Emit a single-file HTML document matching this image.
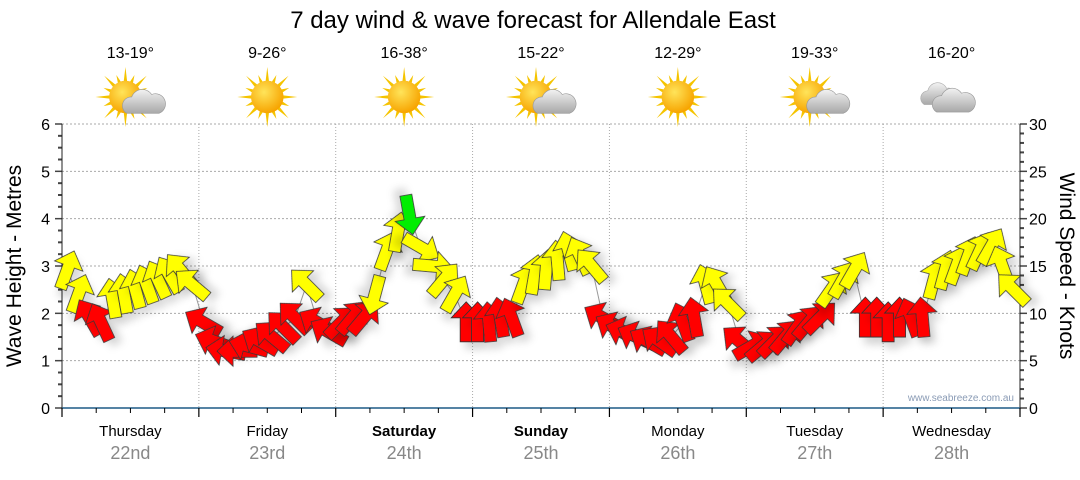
<!DOCTYPE html>
<html><head><meta charset="utf-8">
<style>
body{margin:0;background:#fff;font-family:"Liberation Sans",sans-serif;}
svg text{font-family:"Liberation Sans",sans-serif;}
</style></head>
<body>
<svg id="chart" width="1080" height="475" xmlns="http://www.w3.org/2000/svg">
<defs>
<filter id="sh" x="-50%" y="-50%" width="200%" height="200%"><feDropShadow dx="5" dy="7" stdDeviation="4" flood-color="#000" flood-opacity="0.15"/></filter>
<radialGradient id="sunG" cx="40%" cy="35%" r="65%"><stop offset="0" stop-color="#ffe45a"/><stop offset="1" stop-color="#f7a400"/></radialGradient>
<linearGradient id="cloudG" x1="0" y1="0" x2="0" y2="1"><stop offset="0" stop-color="#f2f2f2"/><stop offset="1" stop-color="#a8a8a8"/></linearGradient>
</defs>
<text x="533" y="28" font-size="24" text-anchor="middle" fill="#000">7 day wind &amp; wave forecast for Allendale East</text>
<g id="grid"></g><g id="axes"></g><g id="icons"></g><g id="marks"></g>
<text transform="translate(21,266) rotate(-90)" font-size="21" text-anchor="middle">Wave Height - Metres</text>
<text transform="translate(1060,266) rotate(90)" font-size="21" text-anchor="middle">Wind Speed - Knots</text>
<text x="1014" y="401" font-size="10" text-anchor="end" fill="#8a9bb5">www.seabreeze.com.au</text>
</svg>
<script>
const days=["Thursday","Friday","Saturday","Sunday","Monday","Tuesday","Wednesday"];
const dates=["22nd","23rd","24th","25th","26th","27th","28th"];
const temps=["13-19°","9-26°","16-38°","15-22°","12-29°","19-33°","16-20°"];
const icons=["partly","sun","sun","partly","sun","partly","cloud"];
const speeds=[14.5,12,9.5,9,11.5,12,12.5,13,13.5,14,14.5,13,
9,7,6,6,6.5,7,7.5,8.5,9.5,13,9,8,
9,9.5,9.5,12,16.5,18.5,20.5,17,15,13.5,12,9,
9,9,9.5,9.5,13,14,14.5,15.5,16.5,16,15,9.5,
8.5,8,7.5,7,7,7.5,9,9.5,13,13,11,7,
6.5,6.5,7,7.5,8.5,9,9.5,12.5,13.5,14.5,9.5,9.5,
9,9.5,9.5,9.5,13.5,14.5,15,16,16.5,17,15,12.5];
const dirs=[20,20,330,335,350,350,345,340,335,330,320,310,
300,290,280,270,285,300,310,315,315,315,300,300,
45,40,40,195,20,10,170,120,95,40,30,0,
0,355,350,340,20,10,5,355,345,335,320,300,
300,290,295,300,305,320,340,350,345,330,315,310,
60,50,45,40,35,40,45,35,30,30,0,0,
0,0,340,355,15,15,20,20,25,30,340,315];
const waveTicks=[0,1,2,3,4,5,6];
const windTicks=[0,5,10,15,20,25,30];

const NS="http://www.w3.org/2000/svg";
const X0=62,X1=1020,Y0=408,Y1=124,DAYW=(X1-X0)/7;
const xT=h=>X0+h/24*DAYW;
const yW=m=>Y0-(m/6)*(Y0-Y1);
const yK=k=>Y0-(k/30)*(Y0-Y1);
function mk(tag,attrs,parent){const e=document.createElementNS(NS,tag);for(const k in attrs)e.setAttribute(k,attrs[k]);parent.appendChild(e);return e;}
const grid=document.getElementById('grid'),axes=document.getElementById('axes'),icG=document.getElementById('icons'),marks=document.getElementById('marks');

waveTicks.forEach(v=>{
  if(v>0){const l=mk('line',{x1:X0,x2:X1,y1:yW(v),y2:yW(v),stroke:'#aaa','stroke-dasharray':'2,2'},grid);
  
  }
  const t=mk('text',{x:50,y:yW(v)+6,'font-size':16,'text-anchor':'end'},axes);t.textContent=v;
  
  
});
for(let m=0;m<=24;m++){const y=yW(m*0.25);mk('line',{x1:X0-(m%4?4:7),x2:X0,y1:y,y2:y,stroke:'#444','stroke-width':(m%4?2:1.5)},axes);}
windTicks.forEach(v=>{
  const t=mk('text',{x:1029,y:yK(v)+6,'font-size':16},axes);t.textContent=v;
  
  
});
for(let k=0;k<=30;k++){const y=yK(k);mk('line',{x1:X1,x2:X1+(k%5?4:7),y1:y,y2:y,stroke:'#444','stroke-width':(k%5?2:1.5)},axes);}
mk('line',{x1:X0,x2:X0,y1:Y1,y2:Y0,stroke:'#222'},axes);
mk('line',{x1:X1,x2:X1,y1:Y1,y2:Y0,stroke:'#222'},axes);
mk('line',{x1:X0,x2:X1,y1:Y0,y2:Y0,stroke:'#1d5a85','stroke-width':1.5},axes);
for(let d=0;d<=7;d++){
  const x=xT(d*24);
  if(d>0&&d<7){const g=mk('line',{x1:x,x2:x,y1:Y1,y2:Y0,stroke:'#aaa','stroke-dasharray':'1,2'},grid);
  
  }
  mk('line',{x1:x,x2:x,y1:Y0,y2:Y0+9,stroke:'#000','stroke-width':1.2},axes);
  if(d<7)for(let q=1;q<4;q++){const xx=xT(d*24+q*6);mk('line',{x1:xx,x2:xx,y1:Y0,y2:Y0+5,stroke:'#000'},axes);}
}
days.forEach((d,i)=>{
  const cx=xT(i*24+12);
  const t=mk('text',{x:cx,y:436,'font-size':15,'text-anchor':'middle','font-weight':(i==2||i==3)?'bold':'normal'},axes);t.textContent=d;
  
  
  const t2=mk('text',{x:cx,y:459,'font-size':18,'text-anchor':'middle',fill:'#888'},axes);t2.textContent=dates[i];
  
  
  const t3=mk('text',{x:cx,y:58,'font-size':16,'text-anchor':'middle'},icG);t3.textContent=temps[i];
  
  
  const g=mk('g',{transform:`translate(${cx},97) scale(1.25)`},icG);
  
  
  if(icons[i]!=='cloud'){
    const sx=icons[i]==='partly'?-4:0;
    for(let r=0;r<16;r++){const a=r*Math.PI/8,L=r%2?19:24;
      mk('polygon',{points:`${sx+Math.cos(a-0.12)*12},${Math.sin(a-0.12)*12} ${sx+Math.cos(a)*L},${Math.sin(a)*L} ${sx+Math.cos(a+0.12)*12},${Math.sin(a+0.12)*12}`,fill:'#f5c400'},g);}
    mk('circle',{cx:sx,cy:0,r:13,fill:'url(#sunG)'},g);
  }
  if(icons[i]==='partly'){
    mk('path',{d:'M-3,13 a7,7 0 0 1 4,-13 a9,9 0 0 1 16,-2 a7,7 0 0 1 6,15 z',fill:'url(#cloudG)',stroke:'#999','stroke-width':0.5},g);
  }
  if(icons[i]==='cloud'){
    mk('path',{d:'M-22,6 a6,6 0 0 1 3,-11 a8,8 0 0 1 15,-2 a6,6 0 0 1 3,13 z',fill:'url(#cloudG)',stroke:'#aaa','stroke-width':0.5},g);
    mk('path',{d:'M-12,12 a7,7 0 0 1 4,-13 a9,9 0 0 1 16,-2 a7,7 0 0 1 6,15 z',fill:'url(#cloudG)',stroke:'#999','stroke-width':0.5},g);
  }
});
let pts=speeds.map((s,i)=>`${xT(i*2)+5},${yK(s)}`).join(' ');
const pl=mk('polyline',{points:pts,fill:'none',stroke:'#999','stroke-width':1},marks);


speeds.forEach((s,i)=>{
  const col=s>=20?'#00ee00':(s>=10?'#ffff00':'#ff0000');
  const a=mk('polygon',{points:'0,-21 15,-5 6,-5 6,19 -6,19 -6,-5 -15,-5',fill:col,stroke:'#333','stroke-width':0.8,filter:'url(#sh)',
    transform:`translate(${xT(i*2)+5},${yK(s)}) rotate(${dirs[i]})`},marks);
  
  
});
</script>
</body></html>
